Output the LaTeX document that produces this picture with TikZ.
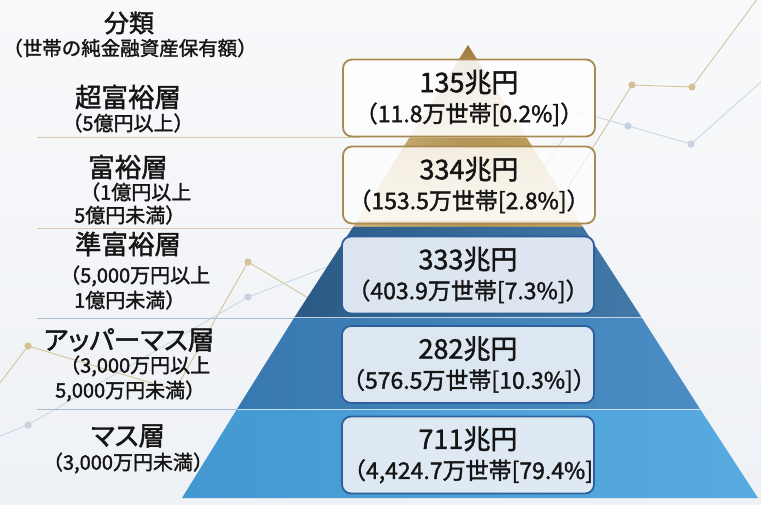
\documentclass[tikz,border=0pt]{standalone}
\usepackage{fontspec}
\setmainfont{Noto Sans CJK JP}
\newfontfamily\medfont[FakeBold=1.6]{Noto Sans CJK JP}
\newfontfamily\kanafont[FakeBold=1.6,RawFeature=+palt]{Noto Sans CJK JP}
\definecolor{bgA}{HTML}{F8F9FB}
\definecolor{bgB}{HTML}{EEF1F5}
\definecolor{goldline}{HTML}{D6C49C}
\definecolor{golddot}{HTML}{D4C196}
\definecolor{blueline}{HTML}{CCD7E4}
\definecolor{bluedot}{HTML}{C6D2E0}
\definecolor{sepgold}{HTML}{D9CBAA}
\definecolor{sepblue}{HTML}{A9BCD0}
\definecolor{goldA}{HTML}{9E7B3A}
\definecolor{goldB}{HTML}{D8C293}
\definecolor{goldC}{HTML}{F1E7CF}
\definecolor{goldstripe}{HTML}{C6A560}
\definecolor{blueA1}{HTML}{2B5A86}
\definecolor{blueA2}{HTML}{4279A8}
\definecolor{blueB1}{HTML}{3678AF}
\definecolor{blueB2}{HTML}{4A8DC4}
\definecolor{blueC1}{HTML}{4498D1}
\definecolor{blueC2}{HTML}{57ABE0}
\definecolor{goldborder}{HTML}{A88A52}
\definecolor{blueborder}{HTML}{2D609A}
\definecolor{bluefill}{HTML}{E6EDF5}
\definecolor{txt}{HTML}{151515}
\newcommand\topline[1]{{\fontsize{27}{30}\selectfont #1}}
\tikzset{
  goldbox/.style={draw=goldborder, line width=1.8pt, rounded corners=9pt, fill=white, fill opacity=0.85, text opacity=1,
    text width=252pt, minimum height=77pt, align=center, text=txt, font=\medfont\fontsize{23}{30}\selectfont, inner sep=0pt},
  bluebox/.style={goldbox, draw=blueborder, fill=bluefill, fill opacity=0.95},
  mainlabel/.style={inner sep=0pt, text=txt, font=\medfont\fontsize{26.5}{26.5}\selectfont},
  sublabel/.style={inner sep=0pt, text=txt, font=\medfont\fontsize{20}{20}\selectfont},
  gdot/.style={fill=golddot},
  bdot/.style={fill=bluedot}
}
\begin{document}
\begin{tikzpicture}[x=1pt, y=-1pt]
\useasboundingbox (0,0) rectangle (761,505);
\shade[top color=bgA, bottom color=bgB] (0,0) rectangle (761,505);

% decorative lines
\draw[goldline, line width=0.9pt] (0,383) -- (28,346) -- (175,390) -- (248,262) -- (320,305);
\draw[goldline, line width=0.9pt] (560,200) -- (632,85) -- (692,87) -- (761,-6);
\draw[blueline, line width=0.9pt] (0,436) -- (28,425) -- (248,297) -- (340,262);
\draw[blueline, line width=0.9pt] (540,175) -- (580,112) -- (628,126) -- (691,144) -- (761,82);
\fill[gdot] (28,346) circle (3.6pt);
\fill[gdot] (248,262) circle (3.6pt);
\fill[gdot] (632,85) circle (3.6pt);
\fill[gdot] (692,87) circle (3.6pt);
\fill[bdot] (28,425) circle (3.6pt);
\fill[bdot] (248,297) circle (3.6pt);
\fill[bdot] (628,126) circle (3.6pt);
\fill[bdot] (691,144) circle (3.6pt);
\fill[bdot, opacity=0.4] (580,112) circle (3.6pt);

% separators
\draw[sepgold, line width=1pt] (37,137.5) -- (360,137.5);
\draw[sepgold, line width=1pt] (37,228.5) -- (360,228.5);
\draw[sepblue, line width=1pt] (37,319) -- (300,319);
\draw[sepblue, line width=1pt] (37,409) -- (240,409);

% pyramid
\shade[top color=goldA, bottom color=goldC, middle color=goldB] (468,45) -- (583,227) -- (353,227) -- cycle;
\begin{scope}
  \clip (468,45) -- (583,227) -- (353,227) -- cycle;
  \shade[left color=goldstripe!80!white, right color=goldstripe, middle color=goldstripe!90!black] (330,139) rectangle (610,146.5);
  \shade[left color=goldstripe!80!white, right color=goldstripe, middle color=goldstripe!90!black] (330,222) rectangle (610,228);
\end{scope}
\shade[left color=blueA1, right color=blueA2] (353,227) -- (583,227) -- (642,318) -- (294,318) -- cycle;
\shade[left color=blueB1, right color=blueB2] (294,318) -- (642,318) -- (700,409) -- (237,409) -- cycle;
\shade[left color=blueC1, right color=blueC2] (237,409) -- (700,409) -- (758,498) -- (182,498) -- cycle;
\draw[white, opacity=0.7, line width=1pt] (294,318) -- (642,318);
\draw[white, opacity=0.7, line width=1pt] (237,409) -- (700,409);

% boxes
\node[goldbox] (b1) at (469,98) {\topline{135兆円}\\（11.8万世帯[0.2\%]）};
\node[goldbox, fill opacity=0.7] (b2) at (469,185) {\topline{334兆円}\\（153.5万世帯[2.8\%]）};
\node[bluebox] (b3) at (468,275) {\topline{333兆円}\\（403.9万世帯[7.3\%]）};
\node[bluebox] (b4) at (468,364.5) {\topline{282兆円}\\（576.5万世帯[10.3\%]）};
\node[bluebox] (b5) at (468,455) {\topline{711兆円}\\（4,424.7万世帯[79.4\%]};

% left labels
\node[mainlabel, font=\medfont\fontsize{25}{25}\selectfont] (t0) at (129,23) {分類};
\node[sublabel, font=\medfont\fontsize{19.5}{19.5}\selectfont] (t0s) at (130,48) {（世帯の純金融資産保有額）};
\node[mainlabel] (l1) at (128,97) {超富裕層};
\node[sublabel] (l1a) at (128,123) {（5億円以上）};
\node[mainlabel] (l2) at (128,167) {富裕層};
\node[sublabel, anchor=west] (l2a) at (80,192) {（1億円以上};
\node[sublabel, anchor=west] (l2b) at (74,215) {5億円未満）};
\node[mainlabel] (l3) at (128,244) {準富裕層};
\node[sublabel, anchor=west] (l3a) at (60,276) {（5,000万円以上};
\node[sublabel, anchor=west] (l3b) at (74,300) {1億円未満）};
\node[mainlabel, font=\kanafont\fontsize{26.5}{26.5}\selectfont] (l4) at (129,340) {アッパーマス層};
\node[sublabel, anchor=west] (l4a) at (60,366) {（3,000万円以上};
\node[sublabel, anchor=west] (l4b) at (55,391) {5,000万円未満）};
\node[mainlabel, font=\kanafont\fontsize{26.5}{26.5}\selectfont] (l5) at (128,436) {マス層};
\node[sublabel] (l5a) at (128,463) {（3,000万円未満）};
\end{tikzpicture}
\end{document}
